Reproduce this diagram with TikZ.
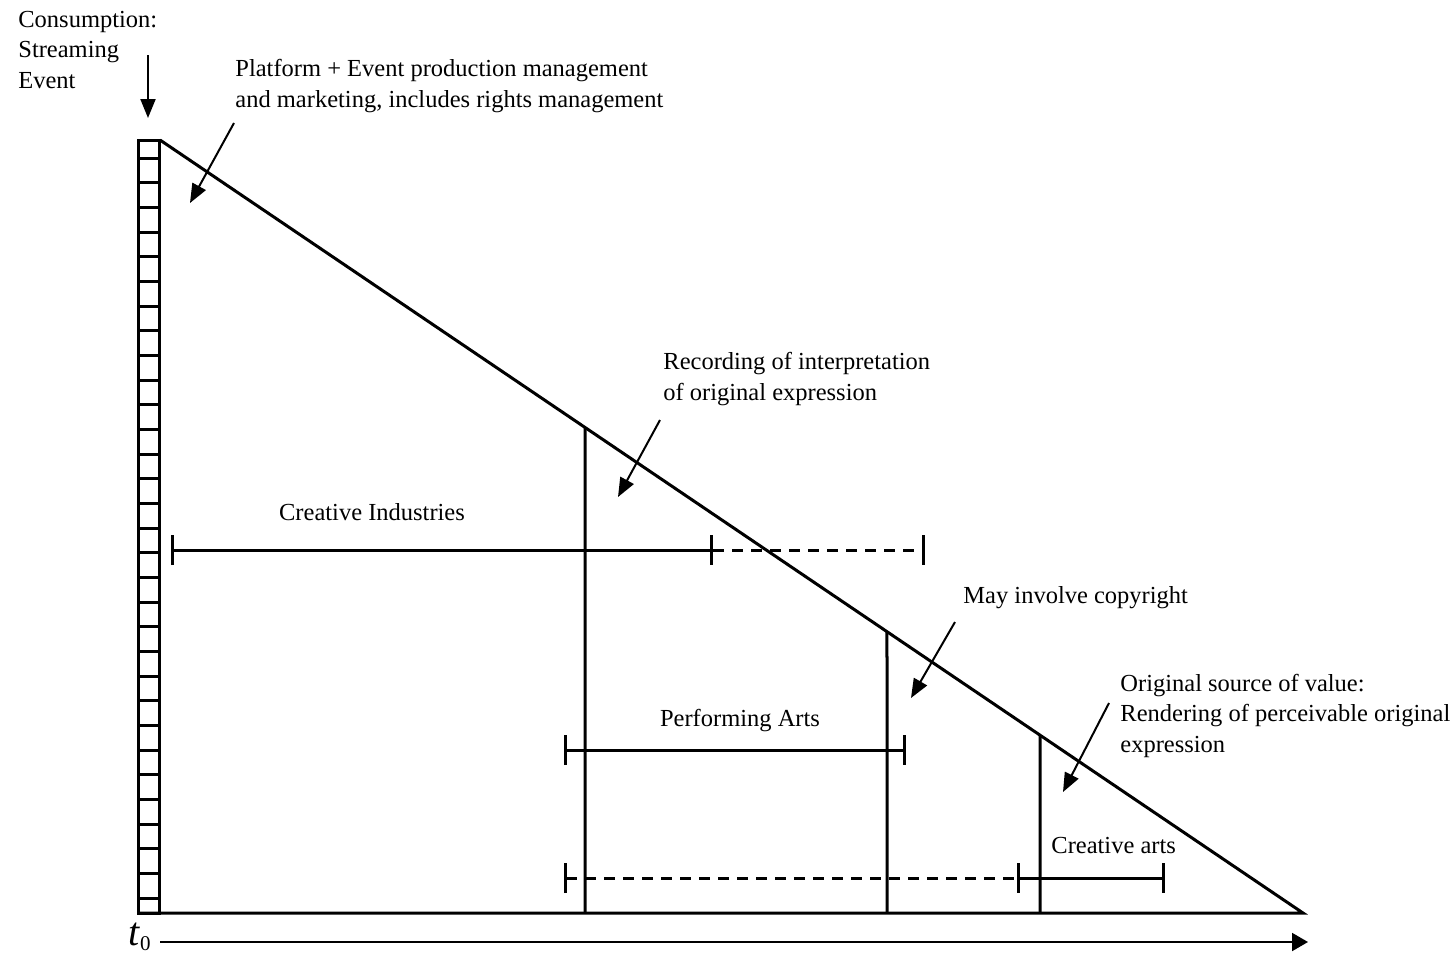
\documentclass[tikz,border=0pt]{standalone}
\usepackage{fontspec}
\setmainfont{Liberation Serif}
\usetikzlibrary{arrows.meta, calc}
\tikzset{
	txt/.style={inner sep=0pt, anchor=base west, align=left,
		font=\fontsize{12.25}{15.25}\selectfont},
	ctxt/.style={txt, anchor=base},
	frame/.style={line width=1.5pt},
	callout/.style={line width=1pt, -{Triangle[length=9.5pt, width=7.5pt]}},
	span/.style={line width=1.5pt, {Bar[width=15pt]}-{Bar[width=15pt]}},
	rspan/.style={line width=1.5pt, -{Bar[width=15pt]}},
	dspan/.style={dash pattern=on 5.5pt off 4pt}
}

\begin{document}
\begin{tikzpicture}[x=0.5pt, y=-0.5pt]
	\useasboundingbox (0,0) rectangle (1455,953);
	% frame of the value chain
	\coordinate (top) at (160,140);
	\coordinate (tip) at (1303,913);
	\coordinate (corner) at (138,913);
	\draw[frame] (138.5,140) rectangle (159.5,913);
	\foreach \k in {0,...,30}
		\draw[frame] (138.5,158+24.67*\k) -- (159.5,158+24.67*\k);
	\draw[frame] (top) -- (tip) -- (corner);
	% stage boundaries
	\foreach \x/\name in {585/rec, 887/perf, 1040/orig}
		\draw[frame] (\x,913) -- ($(top)!{(\x-160)/1143}!(tip)$) coordinate (\name);

	% labels (multi-line ones sit on their last line)
	\node[txt] (consume) at (18,88) {Consumption:\\Streaming\\Event};
	\node[txt] (platform) at (235,107) {Platform + Event production management\\and marketing, includes rights management};
	\node[txt] (record) at (663,400) {Recording of interpretation\\of original expression};
	\node[txt] (copy) at (963,603) {May involve copyright};
	\node[txt] (source) at (1120,752) {Original source of value:\\Rendering of perceivable original\\expression};
	\node[ctxt] (ci) at (372,520) {Creative Industries};
	\node[ctxt] (pa) at (740,726) {Performing Arts};
	\node[txt] (ca) at (1051,853) {Creative arts};
	\node[inner sep=0pt, anchor=base east] (t0) at (151,945)
		{\fontsize{20}{24}\selectfont\textit{t}\raisebox{-2.5pt}{\fontsize{10.5}{12}\selectfont 0}};

	% callouts
	\coordinate (consume-a) at (148,55);
	\coordinate (consume-b) at (148,118);
	\coordinate (platform-a) at (234,123);
	\coordinate (platform-b) at (190,203);
	\coordinate (record-a) at (660,420);
	\coordinate (record-b) at (618,497);
	\coordinate (copy-a) at (955,622);
	\coordinate (copy-b) at (911,698);
	\coordinate (source-a) at (1109,703);
	\coordinate (source-b) at (1063,792);
	\foreach \c in {consume, platform, record, copy, source}
		\draw[callout] (\c-a) -- (\c-b);

	% spans of the sectors
	\coordinate (ci-l) at (171,550);
	\coordinate (ci-m) at (713,550);
	\coordinate (ci-r) at (925,550);
	\coordinate (pa-l) at (564,750);
	\coordinate (pa-r) at (906,750);
	\coordinate (ca-l) at (564,878);
	\coordinate (ca-m) at (1020,878);
	\coordinate (ca-r) at (1165,878);
	\draw[span] (ci-l) -- (ci-m);
	\draw[rspan, dspan] (ci-m) -- (ci-r);
	\draw[span] (pa-l) -- (pa-r);
	\draw[span, dspan] (ca-l) -- (ca-m);
	\draw[rspan] (ca-m) -- (ca-r);

	% time axis
	\coordinate (axis-a) at (160,942);
	\coordinate (axis-b) at (1308,942);
	\draw[line width=1pt, -{Triangle[length=8pt, width=9pt]}] (axis-a) -- (axis-b);
\end{tikzpicture}
\end{document}
